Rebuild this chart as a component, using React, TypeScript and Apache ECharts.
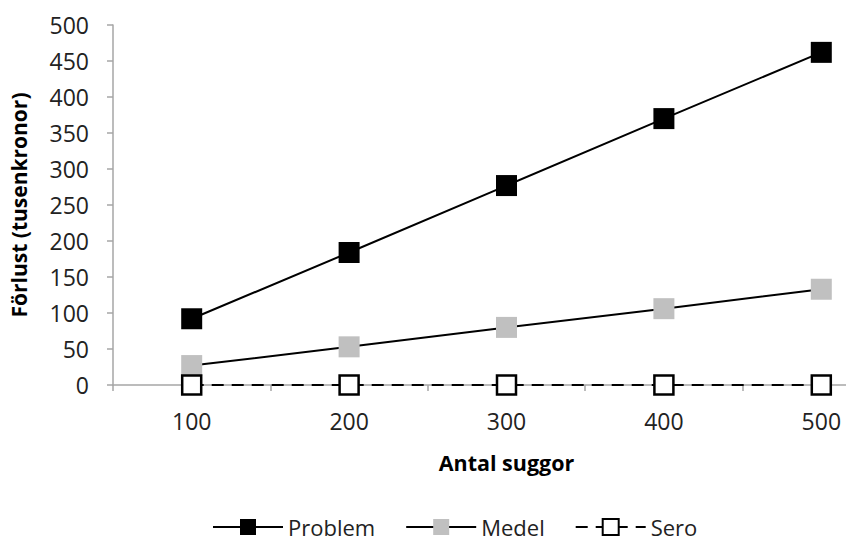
import React, { useEffect, useRef } from "react";
import * as echarts from "echarts";

const categories = ["100", "200", "300", "400", "500"];
const problemValues = [92, 184, 277, 370, 462];
const medelValues = [27, 53, 80, 106, 133];
const seroValues = [0, 0, 0, 0, 0];
const yTicks = { min: 0, max: 500, interval: 50 };
const seriesNames = ["Problem", "Medel", "Sero"];
const yAxisTitle = "Förlust (tusenkronor)";
const xAxisTitle = "Antal suggor";

const FONT = "Open Sans";

export default function App() {
  const ref = useRef<HTMLDivElement>(null);
  useEffect(() => {
    if (!ref.current) return;
    const chart = echarts.init(ref.current, undefined, { renderer: "svg" });
    const lineStyle = { color: "#000", width: 2 };
    chart.setOption({
      animation: false,
      backgroundColor: "#fff",
      grid: { left: 110, top: 25, height: 360, width: 790, containLabel: false },
      legend: {
        left: 207,
        bottom: 0,
        itemWidth: 70,
        itemHeight: 20,
        itemGap: 30,
        textStyle: { fontFamily: FONT, fontSize: 22, color: "#222", lineHeight: 22 },
        data: seriesNames,
      },
      xAxis: {
        type: "category",
        data: categories,
        boundaryGap: true,
        name: xAxisTitle,
        nameLocation: "middle",
        nameGap: 66,
        nameTextStyle: { fontFamily: FONT, fontSize: 21.5, fontWeight: "bold", color: "#000" },
        axisLine: { lineStyle: { color: "#a6a6a6", width: 1.5 } },
        axisTick: { show: true, length: 6, lineStyle: { color: "#a6a6a6", width: 1.5 } },
        axisLabel: { fontFamily: FONT, fontSize: 23, color: "#222", margin: 24 },
        splitLine: { show: false },
      },
      yAxis: {
        type: "value",
        min: yTicks.min,
        max: yTicks.max,
        interval: yTicks.interval,
        name: yAxisTitle,
        nameLocation: "middle",
        nameGap: 84,
        nameTextStyle: { fontFamily: FONT, fontSize: 21, fontWeight: "bold", color: "#000" },
        axisLine: { show: true, lineStyle: { color: "#a6a6a6", width: 1.5 } },
        axisTick: { show: true, length: 6, lineStyle: { color: "#a6a6a6", width: 1.5 } },
        axisLabel: { fontFamily: FONT, fontSize: 23, color: "#222", margin: 24 },
        splitLine: { show: false },
      },
      series: [
        {
          name: seriesNames[0],
          type: "line",
          data: problemValues,
          symbol: "rect",
          symbolSize: 21,
          itemStyle: { color: "#000", borderColor: "#000", borderWidth: 0 },
          lineStyle,
          z: 3,
        },
        {
          name: seriesNames[1],
          type: "line",
          data: medelValues,
          symbol: "rect",
          symbolSize: 21,
          itemStyle: { color: "#c0c0c0", borderWidth: 0 },
          lineStyle,
          z: 2,
        },
        {
          name: seriesNames[2],
          type: "line",
          data: seroValues,
          symbol: "rect",
          symbolSize: 19,
          itemStyle: { color: "#fff", borderColor: "#000", borderWidth: 2.5 },
          lineStyle: { color: "#000", width: 2, type: [12, 8] },
          z: 4,
        },
      ],
    });
    return () => chart.dispose();
  }, []);
  return (
    <div style={{ width: 846, height: 543, position: "absolute", left: 0, top: 0, overflow: "hidden" }}>
      <div ref={ref} style={{ width: 900, height: 543 }} />
    </div>
  );
}
